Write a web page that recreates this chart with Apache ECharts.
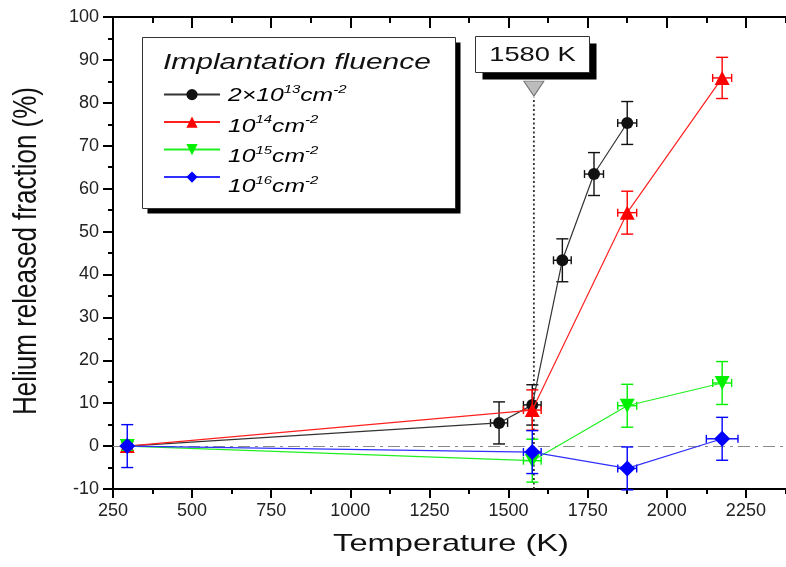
<!DOCTYPE html>
<html><head><meta charset="utf-8">
<script src="https://cdn.jsdelivr.net/npm/echarts@6/dist/echarts.min.js"></script>
<style>html,body{margin:0;padding:0;background:#fff}#c{width:786px;height:567px}</style>
</head><body><div id="c"></div>
<script>
// ---- data ----
const seriesNames = ['2x10^13 cm^-2', '10^14 cm^-2', '10^15 cm^-2', '10^16 cm^-2'];
const legendTitle = 'Implantation fluence';
const xTitle = 'Temperature (K)';
const yTitle = 'Helium released fraction (%)';
const xTicks = [250, 500, 750, 1000, 1250, 1500, 1750, 2000, 2250];

const tempA = [295, 1470, 1575, 1670, 1770, 1875];
const valA  = [0, 5.4, 9.6, 43.3, 63.4, 75.3];
const yErrA = [1, 4.9, 4.7, 5, 5, 5];
const xErrA = [0, 27, 28, 28, 30, 30];

const tempB = [295, 1575, 1875, 2175];
const valB  = [0, 8.4, 54.4, 85.8];
const yErrB = [1, 4.7, 5, 4.8];
const xErrB = [0, 28, 30, 30];

const tempC = [295, 1575, 1875, 2175];
const valC  = [0, -3.4, 9.4, 14.7];
const yErrC = [1, 5, 5, 5];
const xErrC = [0, 28, 30, 30];

const tempD = [295, 1575, 1875, 2175];
const valD  = [0, -1.4, -5.2, 1.7];
const yErrD = [5, 5, 5, 5];
const xErrD = [0, 28, 30, 50];

const markT = 1580;          // annotated temperature
const markTop = 83.3;        // value where the grey marker sits
const markLabel = '1580 K';

// ---- chart ----
const F = '"Liberation Sans", Arial, sans-serif';
const colors = ['#111111', '#ff0000', '#00f000', '#0000ff'];
const lineColors = ['#333333', '#ff2020', '#20f020', '#3030ff'];

function pts(t, v) { return t.map((x, i) => [x, v[i]]); }
function errs(t, v, xe, ye) { return t.map((x, i) => [x, v[i], xe[i], ye[i]]); }

function errRender(color) {
  return function (params, api) {
    const x = api.value(0), y = api.value(1), xe = api.value(2), ye = api.value(3);
    const c = api.coord([x, y]);
    const st = { stroke: color, lineWidth: 1.4, fill: null };
    const ch = [];
    if (ye > 0) {
      const t = api.coord([x, y + ye]), b = api.coord([x, y - ye]);
      ch.push({ type: 'line', shape: { x1: c[0], y1: t[1], x2: c[0], y2: b[1] }, style: st });
      ch.push({ type: 'line', shape: { x1: c[0] - 6, y1: t[1], x2: c[0] + 6, y2: t[1] }, style: st });
      ch.push({ type: 'line', shape: { x1: c[0] - 6, y1: b[1], x2: c[0] + 6, y2: b[1] }, style: st });
    }
    if (xe > 0) {
      const l = api.coord([x - xe, y]), r = api.coord([x + xe, y]);
      ch.push({ type: 'line', shape: { x1: l[0], y1: c[1], x2: r[0], y2: c[1] }, style: st });
      ch.push({ type: 'line', shape: { x1: l[0], y1: c[1] - 4, x2: l[0], y2: c[1] + 4 }, style: st });
      ch.push({ type: 'line', shape: { x1: r[0], y1: c[1] - 4, x2: r[0], y2: c[1] + 4 }, style: st });
    }
    return { type: 'group', children: ch };
  };
}

const groups = [
  { t: tempA, v: valA, xe: xErrA, ye: yErrA, sym: 'circle', size: 12, rot: 0 },
  { t: tempB, v: valB, xe: xErrB, ye: yErrB, sym: 'triangle', size: [15, 14], rot: 0 },
  { t: tempC, v: valC, xe: xErrC, ye: yErrC, sym: 'triangle', size: [15, 14], rot: 180 },
  { t: tempD, v: valD, xe: xErrD, ye: yErrD, sym: 'diamond', size: 16, rot: 0 }
];

const series = [];
// vertical annotation line
series.push({
  type: 'line', data: [[markT, -10], [markT, markTop - 2]], symbol: 'none', silent: true,
  lineStyle: { color: '#333', width: 1.8, type: [2, 2.5] }, z: 1
});
groups.forEach((g, i) => {
  series.push({
    type: 'custom', renderItem: errRender(colors[i]), data: errs(g.t, g.v, g.xe, g.ye),
    encode: { x: 0, y: 1 }, silent: true, z: 2 + i * 2
  });
  const s = {
    type: 'line', name: seriesNames[i], data: pts(g.t, g.v), symbol: g.sym, symbolSize: g.size,
    symbolRotate: g.rot, showAllSymbol: true,
    lineStyle: { color: lineColors[i], width: 1.2 },
    itemStyle: { color: colors[i] }, z: 3 + i * 2, animation: false
  };
  if (i === 0) {
    s.markLine = {
      silent: true, symbol: 'none', label: { show: false }, animation: false,
      lineStyle: { color: '#8a8a8a', width: 1.2, type: [12, 5, 3, 5] },
      data: [{ yAxis: 0 }]
    };
  }
  series.push(s);
});
series.push({
  type: 'scatter', data: [[markT, markTop]], symbol: 'triangle', symbolRotate: 180,
  symbolSize: [20, 15], itemStyle: { color: '#ababab', borderColor: '#555', borderWidth: 1 }, z: 20, silent: true
});

function sup(base, exp) { return '{b|' + base + '}{s|' + exp + '}'; }
const legendTexts = [
  sup('2×10', '13') + sup('cm', '-2'),
  sup('10', '14') + sup('cm', '-2'),
  sup('10', '15') + sup('cm', '-2'),
  sup('10', '16') + sup('cm', '-2')
];
const richLeg = {
  b: { fontSize: 19, fontStyle: 'italic', fontFamily: F, color: '#111' },
  s: { fontSize: 11.5, fontStyle: 'italic', fontFamily: F, color: '#111', padding: [0, 0, 13, 0] }
};

function shadowBox(x, y, w, h, off) {
  return [
    { type: 'rect', shape: { x: x + off, y: y + off, width: w, height: h }, z: 9, silent: true,
      style: { fill: '#000', stroke: null } },
    { type: 'rect', shape: { x: x, y: y, width: w, height: h }, z: 10, silent: true,
      style: { fill: '#fff', stroke: '#333', lineWidth: 1 } }
  ];
}

const graphic = [].concat(
  shadowBox(142.5, 37.5, 313, 171, 5),
  shadowBox(475.5, 36.5, 114, 36, 7),
  [
    { type: 'text', x: 163, y: 63, scaleX: 1.36, z: 12,
      style: { text: legendTitle, fontSize: 22, fontStyle: 'italic', fontFamily: F, fill: '#111', align: 'left', verticalAlign: 'middle', textAlign: 'left', textVerticalAlign: 'middle' } },
    { type: 'text', x: 532.5, y: 55, scaleX: 1.3, z: 12,
      style: { text: markLabel, fontSize: 21, fontFamily: F, fill: '#111', align: 'center', verticalAlign: 'middle', textAlign: 'center', textVerticalAlign: 'middle' } },
    { type: 'text', x: 451, y: 544, scaleX: 1.36, z: 12,
      style: { text: xTitle, fontSize: 24, fontFamily: F, fill: '#111', align: 'center', verticalAlign: 'middle', textAlign: 'center', textVerticalAlign: 'middle' } },
    { type: 'text', x: 27, y: 251, rotation: Math.PI / 2, scaleY: 1.3, z: 12,
      style: { text: yTitle, fontSize: 26, fontFamily: F, fill: '#111', align: 'center', verticalAlign: 'middle', textAlign: 'center', textVerticalAlign: 'middle' } }
  ]
);
const legendY = [96, 126.5, 157, 187];
legendTexts.forEach((t, i) => {
  graphic.push({ type: 'text', x: 228, y: legendY[i], scaleX: 1.3, z: 12,
    style: { text: t, rich: richLeg, align: 'left', verticalAlign: 'middle', textAlign: 'left', textVerticalAlign: 'middle' } });
});

const axLine = { show: true, onZero: false, lineStyle: { color: '#000', width: 2 } };
const option = {
  animation: false,
  backgroundColor: '#fff',
  grid: { left: 113, right: -39, top: 17, bottom: 78, outerBoundsMode: 'none', containLabel: false },
  legend: {
    data: seriesNames, orient: 'vertical', left: 163, top: 89, itemWidth: 56, itemHeight: 14, itemGap: 16.3,
    formatter: () => '', textStyle: { fontSize: 12, lineHeight: 14 }, selectedMode: false, z: 15, padding: 0
  },
  xAxis: [
    { type: 'value', position: 'bottom', min: 250, max: 2500, interval: 250, axisLine: axLine,
      axisTick: { show: true, inside: false, length: 9, lineStyle: { color: '#000', width: 2 } },
      minorTick: { show: true, splitNumber: 2, length: 5, lineStyle: { color: '#000', width: 2 } },
      axisLabel: { fontSize: 18, fontFamily: F, color: '#222', margin: 13,
        formatter: v => (xTicks.indexOf(v) >= 0 ? String(v) : '') },
      splitLine: { show: false } },
    { type: 'value', position: 'top', min: 250, max: 2500, interval: 250, axisLine: axLine,
      axisTick: { show: true, inside: true, length: 11, lineStyle: { color: '#000', width: 2 } },
      minorTick: { show: true, splitNumber: 2, length: 6, lineStyle: { color: '#000', width: 2 } },
      axisLabel: { show: false }, splitLine: { show: false } }
  ],
  yAxis: [
    { type: 'value', position: 'left', min: -10, max: 100, interval: 10, axisLine: axLine,
      axisTick: { show: true, inside: false, length: 10, lineStyle: { color: '#000', width: 2 } },
      minorTick: { show: true, splitNumber: 2, length: 5, lineStyle: { color: '#000', width: 2 } },
      axisLabel: { fontSize: 18, fontFamily: F, color: '#222', margin: 14 },
      splitLine: { show: false } },
    { type: 'value', position: 'right', min: -10, max: 100, interval: 10, axisLine: axLine,
      axisTick: { show: true, inside: true, length: 10, lineStyle: { color: '#000', width: 2 } },
      minorTick: { show: true, splitNumber: 2, length: 5, lineStyle: { color: '#000', width: 2 } },
      axisLabel: { show: false }, splitLine: { show: false } }
  ],
  series: series,
  graphic: graphic
};
const chart = echarts.init(document.getElementById('c'), null, { renderer: 'canvas' });
chart.setOption(option);
</script>
</body></html>
